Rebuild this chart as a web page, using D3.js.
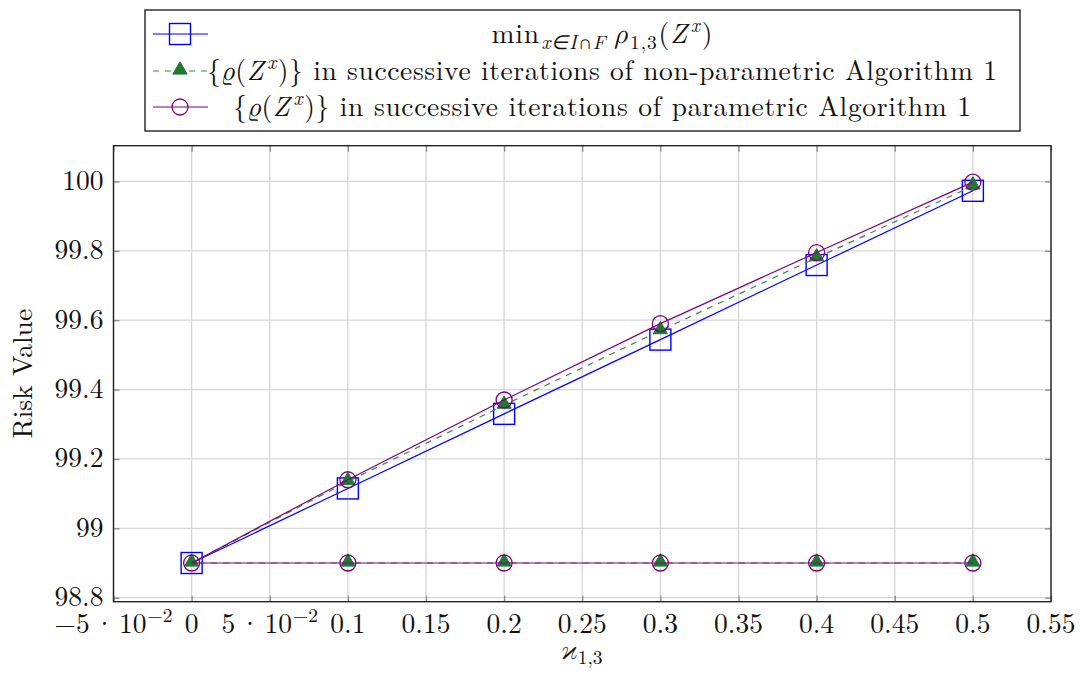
<!DOCTYPE html>
<html>
<head>
<meta charset="utf-8">
<script src="https://cdn.jsdelivr.net/npm/d3@7"></script>
<style>
  html, body { margin: 0; padding: 0; background: #fff; }
</style>
</head>
<body>
<svg id="chart" width="1081" height="673"></svg>
<script>
// ---------- data ----------
const xValues = [0, 0.1, 0.2, 0.3, 0.4, 0.5];
const minRisk = [98.9, 99.115, 99.33, 99.544, 99.759, 99.973];
// iterations: baseline run (right to left) then the improving run
const nonParamX = [0.5, 0.4, 0.3, 0.2, 0.1, 0, 0.1, 0.2, 0.3, 0.4, 0.5];
const nonParamY = [98.9, 98.9, 98.9, 98.9, 98.9, 98.9, 99.135, 99.355, 99.57, 99.78, 99.987];
const paramX = [0.5, 0.4, 0.3, 0.2, 0.1, 0, 0.1, 0.2, 0.3, 0.4, 0.5];
const paramY = [98.9, 98.9, 98.9, 98.9, 98.9, 98.9, 99.14, 99.37, 99.59, 99.795, 99.998];
const xTicks = [-0.05, 0, 0.05, 0.1, 0.15, 0.2, 0.25, 0.3, 0.35, 0.4, 0.45, 0.5, 0.55];
const xTickLabels = ["−5·10^−2", "0", "5·10^−2", "0.1", "0.15", "0.2", "0.25", "0.3", "0.35", "0.4", "0.45", "0.5", "0.55"];
const yTicks = [98.8, 99, 99.2, 99.4, 99.6, 99.8, 100];
const yTickLabels = ["98.8", "99", "99.2", "99.4", "99.6", "99.8", "100"];

const FONT = "'Latin Modern Roman', 'Liberation Serif', serif";
const GREEK = "'Latin Modern Math', 'STIX Two Math', 'Liberation Serif', 'Latin Modern Roman', serif";
const colBlue = "#0000ff", colGreen = "#2f8f3f", colGreenFill = "#1f7a30", colPurple = "#800080";

const svg = d3.select("#chart");
const L = 113.5, R = 1051, T = 145.7, B = 601.7;
const x = d3.scaleLinear().domain([-0.05, 0.55]).range([L, R]);
const y = d3.scaleLinear().domain([98.7885, 100.103]).range([B, T]);
const FS = 27.5, SS = 19.5;

// grid
const grid = svg.append("g");
grid.selectAll("line.gx").data(xTicks).join("line")
  .attr("x1", d => x(d)).attr("x2", d => x(d)).attr("y1", T).attr("y2", B)
  .attr("stroke", "#d6d6d6").attr("stroke-width", 1.3);
grid.selectAll("line.gy").data(yTicks).join("line")
  .attr("y1", d => y(d)).attr("y2", d => y(d)).attr("x1", L).attr("x2", R)
  .attr("stroke", "#d6d6d6").attr("stroke-width", 1.3);

// axes via d3 axis (inner ticks, mirrored)
function styleAxis(g) {
  g.select(".domain").remove();
  g.selectAll(".tick line").attr("stroke", "#8a8a8a").attr("stroke-width", 1.3);
  g.selectAll(".tick text").remove();
}
svg.append("g").attr("transform", `translate(0,${B})`)
  .call(d3.axisBottom(x).tickValues(xTicks).tickSize(-6)).call(styleAxis);
svg.append("g").attr("transform", `translate(0,${T})`)
  .call(d3.axisTop(x).tickValues(xTicks).tickSize(-6)).call(styleAxis);
svg.append("g").attr("transform", `translate(${L},0)`)
  .call(d3.axisLeft(y).tickValues(yTicks).tickSize(-6)).call(styleAxis);
svg.append("g").attr("transform", `translate(${R},0)`)
  .call(d3.axisRight(y).tickValues(yTicks).tickSize(-6)).call(styleAxis);

// tick labels
svg.append("g").selectAll("text").data(yTicks).join("text")
  .attr("x", L - 10).attr("y", d => y(d) + 8.5)
  .attr("text-anchor", "end").attr("font-size", FS).attr("fill", "#111")
  .text((d, i) => yTickLabels[i]);

const xl = svg.append("g").selectAll("text").data(xTicks).join("text")
  .attr("x", d => x(d)).attr("y", 633)
  .attr("text-anchor", "middle").attr("font-size", FS).attr("fill", "#111");
xl.each(function(d, i) {
  const lab = xTickLabels[i];
  const t = d3.select(this);
  if (lab.includes("^")) {
    const [base, exp] = lab.split("^");
    const [mant, pow] = base.split("·");
    t.append("tspan").text(mant);
    t.append("tspan").attr("dx", 4).text("·");
    t.append("tspan").attr("dx", 4).text(pow);
    t.append("tspan").attr("dy", -11).attr("dx", 1).attr("font-size", SS).text(exp);
  } else {
    t.text(lab);
  }
});

// frame
svg.append("rect").attr("x", L).attr("y", T).attr("width", R - L).attr("height", B - T)
  .attr("fill", "none").attr("stroke", "#222").attr("stroke-width", 1.4);

const line = d3.line().x(d => x(d[0])).y(d => y(d[1]));
const plot = svg.append("g");

// marker drawers
const sq = 10.5, cr = 8, tr = 8.2;
const triPath = r => `M0,${-r}L${r * 0.866},${r * 0.5}L${-r * 0.866},${r * 0.5}Z`;

// series 1: min risk (blue squares)
const s1 = xValues.map((v, i) => [v, minRisk[i]]);
plot.append("path").datum(s1).attr("d", line)
  .attr("fill", "none").attr("stroke", colBlue).attr("stroke-width", 1.2);
plot.selectAll("rect.sq").data(s1).join("rect")
  .attr("x", d => x(d[0]) - sq).attr("y", d => y(d[1]) - sq)
  .attr("width", 2 * sq).attr("height", 2 * sq)
  .attr("fill", "none").attr("stroke", colBlue).attr("stroke-width", 1.4);

// series 2: non-parametric (green dashed, triangles)
const s2 = nonParamX.map((v, i) => [v, nonParamY[i]]);
plot.append("path").datum(s2).attr("d", line)
  .attr("fill", "none").attr("stroke", colGreen).attr("stroke-width", 1.2)
  .attr("stroke-dasharray", "6,6");
plot.selectAll("path.tri").data(s2).join("path")
  .attr("transform", d => `translate(${x(d[0])},${y(d[1]) - 1})`)
  .attr("d", triPath(tr)).attr("fill", colGreenFill).attr("stroke", colGreenFill).attr("stroke-width", 1);

// series 3: parametric (purple, circles)
const s3 = paramX.map((v, i) => [v, paramY[i]]);
plot.append("path").datum(s3).attr("d", line)
  .attr("fill", "none").attr("stroke", colPurple).attr("stroke-width", 1.2);
plot.selectAll("circle.c").data(s3).join("circle")
  .attr("cx", d => x(d[0])).attr("cy", d => y(d[1])).attr("r", cr)
  .attr("fill", "none").attr("stroke", colPurple).attr("stroke-width", 1.3);

// axis titles
const xt = svg.append("text").attr("x", 581).attr("y", 659).attr("text-anchor", "middle")
  .attr("font-size", FS).attr("fill", "#111");
xt.append("tspan").attr("class", "greek").attr("font-style", "italic").text("ϰ");
xt.append("tspan").attr("dy", 5).attr("dx", 1).attr("font-size", SS).text("1,3");

svg.append("text").attr("transform", `translate(32,${(T + B) / 2}) rotate(-90)`)
  .attr("text-anchor", "middle").attr("font-size", FS).attr("fill", "#111").text("Risk Value");

// legend
const lg = svg.append("g");
lg.append("rect").attr("x", 145).attr("y", 10).attr("width", 875).attr("height", 121)
  .attr("fill", "#fff").attr("stroke", "#222").attr("stroke-width", 1.4);
const rowY = [34, 71, 107];
// row 1 marker
lg.append("line").attr("x1", 153).attr("x2", 208).attr("y1", rowY[0]).attr("y2", rowY[0])
  .attr("stroke", colBlue).attr("stroke-width", 1.2);
lg.append("rect").attr("x", 180 - sq).attr("y", rowY[0] - sq).attr("width", 2 * sq).attr("height", 2 * sq)
  .attr("fill", "none").attr("stroke", colBlue).attr("stroke-width", 1.4);
// row 2 marker
lg.append("line").attr("x1", 153).attr("x2", 208).attr("y1", rowY[1]).attr("y2", rowY[1])
  .attr("stroke", colGreen).attr("stroke-width", 1.2).attr("stroke-dasharray", "6,6");
lg.append("path").attr("transform", `translate(180,${rowY[1] - 1})`).attr("d", triPath(tr))
  .attr("fill", colGreenFill).attr("stroke", colGreenFill);
// row 3 marker
lg.append("line").attr("x1", 153).attr("x2", 208).attr("y1", rowY[2]).attr("y2", rowY[2])
  .attr("stroke", colPurple).attr("stroke-width", 1.2);
lg.append("circle").attr("cx", 180).attr("cy", rowY[2]).attr("r", cr)
  .attr("fill", "none").attr("stroke", colPurple).attr("stroke-width", 1.3);

// row 1 text
const t1 = lg.append("text").attr("x", 602).attr("y", 43).attr("text-anchor", "middle")
  .attr("font-size", FS).attr("fill", "#111");
t1.append("tspan").text("min");
t1.append("tspan").attr("dy", 6).attr("dx", 1.5).attr("font-size", SS).attr("font-style", "italic").text("x∈I∩F");
t1.append("tspan").attr("dy", -6).attr("dx", 8).attr("class", "greek").attr("font-style", "italic").text("ρ");
t1.append("tspan").attr("dy", 6).attr("dx", 1.5).attr("font-size", SS).text("1,3");
t1.append("tspan").attr("dy", -6).attr("dx", 1).text("(");
t1.append("tspan").attr("font-style", "italic").text("Z");
t1.append("tspan").attr("dy", -11).attr("dx", 3).attr("font-size", SS).attr("font-style", "italic").text("x");
t1.append("tspan").attr("dy", 11).attr("dx", 1).text(")");

function iterText(yb, word) {
  const t = lg.append("text").attr("x", 602).attr("y", yb).attr("text-anchor", "middle")
    .attr("font-size", FS).attr("fill", "#111");
  t.append("tspan").text("{");
  t.append("tspan").attr("class", "greek").attr("font-style", "italic").text("ϱ");
  t.append("tspan").text("(");
  t.append("tspan").attr("font-style", "italic").text("Z");
  t.append("tspan").attr("dy", -11).attr("dx", 3).attr("font-size", SS).attr("font-style", "italic").text("x");
  t.append("tspan").attr("dy", 11).attr("dx", 1).text(")} in successive iterations of " + word + " Algorithm 1");
  return t;
}
const r2 = iterText(80, "non-parametric");
const r3 = iterText(116, "parametric");

svg.selectAll("text").attr("font-family", FONT).style("font-family", FONT);
svg.selectAll("tspan.greek").attr("font-family", GREEK).style("font-family", GREEK);

// match the legend line widths of the reference
[[t1, 221], [r2, 790], [r3, 738]].forEach(([t, len]) => {
  if (t.node().getComputedTextLength() < len) t.attr("textLength", len).attr("lengthAdjust", "spacing");
});
</script>
</body>
</html>
